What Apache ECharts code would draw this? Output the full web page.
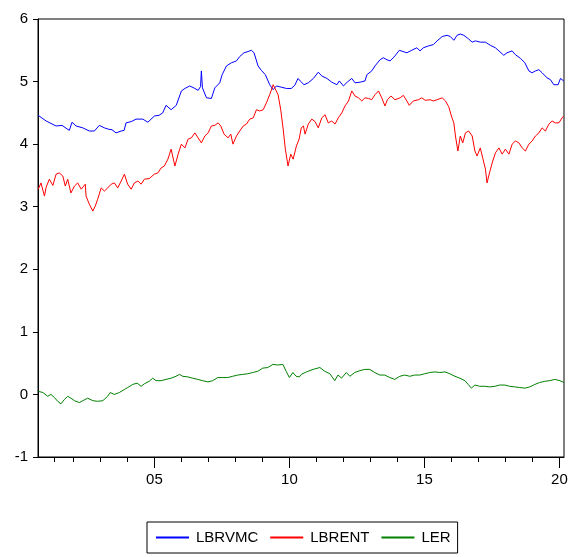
<!DOCTYPE html>
<html>
<head>
<meta charset="utf-8">
<script src="https://cdn.jsdelivr.net/npm/echarts@6/dist/echarts.min.js"></script>
<style>
  html, body { margin: 0; padding: 0; background: #fff; }
  #chart { width: 576px; height: 557px; }
</style>
</head>
<body>
<div id="chart"></div>
<script>
// LBRVMC (decimal year, log level)
const lbrvmcYears = [2000.70,2000.99,2001.36,2001.58,2001.85,2001.95,2002.10,2002.35,2002.59,2002.78,2002.96,2003.15,2003.29,2003.43,2003.58,2003.77,2003.88,2003.95,2004.14,2004.32,2004.57,2004.76,2005.00,2005.17,2005.31,2005.43,2005.62,2005.69,2005.81,2006.00,2006.13,2006.31,2006.50,2006.62,2006.71,2006.74,2006.78,2006.93,2007.11,2007.24,2007.42,2007.51,2007.67,2007.85,2008.04,2008.16,2008.32,2008.47,2008.59,2008.69,2008.84,2008.96,2009.11,2009.27,2009.40,2009.52,2009.70,2009.89,2010.07,2010.20,2010.32,2010.40,2010.54,2010.70,2010.89,2011.07,2011.20,2011.39,2011.57,2011.76,2011.85,2012.00,2012.14,2012.31,2012.43,2012.62,2012.80,2012.87,2013.05,2013.17,2013.36,2013.48,2013.61,2013.73,2013.91,2014.07,2014.21,2014.35,2014.53,2014.72,2014.84,2014.96,2015.15,2015.33,2015.47,2015.66,2015.84,2015.96,2016.09,2016.21,2016.33,2016.46,2016.64,2016.77,2016.89,2017.07,2017.26,2017.44,2017.63,2017.76,2017.94,2018.06,2018.25,2018.37,2018.56,2018.72,2018.87,2018.99,2019.11,2019.24,2019.36,2019.54,2019.67,2019.79,2019.95,2020.04,2020.16];
const lbrvmc = [4.46,4.37,4.29,4.30,4.22,4.35,4.29,4.26,4.21,4.21,4.30,4.26,4.24,4.23,4.18,4.21,4.22,4.34,4.36,4.40,4.40,4.35,4.45,4.46,4.50,4.62,4.55,4.54,4.62,4.85,4.89,4.93,4.89,4.86,4.92,5.17,4.90,4.74,4.73,4.90,4.98,5.11,5.25,5.30,5.33,5.40,5.46,5.48,5.50,5.46,5.25,5.18,5.11,4.95,4.87,4.93,4.91,4.89,4.89,4.94,5.05,5.01,4.95,4.98,5.05,5.15,5.09,5.05,4.99,4.95,5.01,4.93,4.99,5.05,4.98,4.99,5.01,5.11,5.17,5.25,5.35,5.38,5.35,5.33,5.41,5.50,5.48,5.46,5.50,5.54,5.49,5.54,5.57,5.59,5.65,5.72,5.74,5.72,5.66,5.74,5.76,5.74,5.68,5.63,5.65,5.63,5.63,5.58,5.54,5.49,5.42,5.46,5.49,5.43,5.37,5.30,5.17,5.14,5.17,5.19,5.14,5.06,5.03,4.95,4.95,5.05,5.01];

// LBRENT
const lbrentYears = [2000.70,2000.80,2000.93,2000.99,2001.11,2001.24,2001.36,2001.48,2001.61,2001.70,2001.79,2001.91,2002.04,2002.16,2002.29,2002.44,2002.47,2002.59,2002.72,2002.81,2002.90,2003.03,2003.15,2003.27,2003.40,2003.52,2003.64,2003.77,2003.89,2004.01,2004.14,2004.26,2004.39,2004.51,2004.63,2004.81,2005.00,2005.13,2005.25,2005.37,2005.50,2005.62,2005.76,2005.88,2006.00,2006.13,2006.25,2006.37,2006.50,2006.62,2006.74,2006.87,2006.99,2007.11,2007.24,2007.36,2007.46,2007.58,2007.73,2007.83,2007.91,2008.04,2008.16,2008.29,2008.41,2008.53,2008.66,2008.78,2008.90,2009.03,2009.15,2009.27,2009.40,2009.46,2009.58,2009.68,2009.77,2009.85,2009.95,2010.05,2010.14,2010.26,2010.36,2010.44,2010.52,2010.58,2010.70,2010.83,2010.95,2011.07,2011.20,2011.32,2011.44,2011.57,2011.69,2011.81,2011.94,2012.06,2012.19,2012.31,2012.43,2012.56,2012.68,2012.80,2012.93,2013.05,2013.17,2013.30,2013.42,2013.54,2013.63,2013.76,2013.91,2014.10,2014.22,2014.35,2014.44,2014.59,2014.78,2014.90,2015.03,2015.21,2015.33,2015.47,2015.66,2015.78,2015.90,2016.00,2016.09,2016.15,2016.24,2016.33,2016.42,2016.52,2016.64,2016.77,2016.87,2016.95,2017.07,2017.16,2017.26,2017.32,2017.41,2017.51,2017.63,2017.76,2017.88,2018.00,2018.13,2018.25,2018.37,2018.50,2018.62,2018.74,2018.87,2018.99,2019.11,2019.24,2019.36,2019.48,2019.61,2019.73,2019.85,2019.98,2020.10,2020.16];
const lbrent = [3.28,3.38,3.17,3.31,3.44,3.34,3.52,3.54,3.49,3.33,3.44,3.22,3.33,3.38,3.28,3.36,3.17,3.04,2.93,3.01,3.12,3.30,3.25,3.30,3.36,3.38,3.30,3.41,3.52,3.36,3.28,3.38,3.41,3.36,3.44,3.45,3.52,3.54,3.62,3.65,3.76,3.92,3.65,3.84,4.00,3.94,4.08,4.10,4.18,4.10,4.02,4.13,4.18,4.29,4.30,4.34,4.29,4.16,4.10,4.16,4.00,4.13,4.21,4.29,4.32,4.40,4.42,4.55,4.53,4.55,4.66,4.79,4.95,4.98,4.79,4.55,4.24,3.92,3.65,3.84,3.76,3.97,4.08,4.26,4.29,4.16,4.32,4.40,4.36,4.26,4.42,4.47,4.34,4.37,4.32,4.42,4.50,4.61,4.69,4.85,4.77,4.74,4.69,4.74,4.73,4.71,4.79,4.85,4.74,4.61,4.71,4.77,4.71,4.74,4.78,4.69,4.62,4.69,4.71,4.74,4.70,4.71,4.69,4.71,4.74,4.69,4.60,4.45,4.34,4.13,3.89,4.13,4.02,4.18,4.21,4.13,3.89,3.81,3.94,3.78,3.60,3.38,3.54,3.70,3.86,3.94,3.84,3.92,3.84,4.00,4.05,4.02,3.94,3.89,4.00,4.05,4.13,4.18,4.26,4.21,4.32,4.37,4.34,4.34,4.42,4.45];

// LER
const lerYears = [2000.70,2000.87,2001.05,2001.17,2001.30,2001.42,2001.54,2001.67,2001.79,2001.91,2002.04,2002.22,2002.35,2002.53,2002.72,2002.90,2003.09,2003.27,2003.36,2003.52,2003.70,2003.89,2004.01,2004.20,2004.36,2004.51,2004.63,2004.81,2004.94,2005.06,2005.25,2005.43,2005.62,2005.80,2005.93,2006.05,2006.24,2006.42,2006.61,2006.79,2006.98,2007.16,2007.35,2007.53,2007.72,2007.90,2008.09,2008.27,2008.46,2008.64,2008.83,2009.01,2009.20,2009.39,2009.57,2009.76,2009.88,2010.00,2010.13,2010.25,2010.37,2010.44,2010.63,2010.88,2011.13,2011.31,2011.50,2011.68,2011.80,2011.93,2012.11,2012.24,2012.42,2012.61,2012.79,2012.98,2013.16,2013.35,2013.53,2013.72,2013.90,2014.09,2014.27,2014.46,2014.64,2014.83,2015.01,2015.20,2015.39,2015.57,2015.76,2015.94,2016.13,2016.31,2016.50,2016.62,2016.74,2016.87,2017.05,2017.24,2017.42,2017.61,2017.79,2017.98,2018.16,2018.35,2018.53,2018.72,2018.90,2019.09,2019.27,2019.46,2019.64,2019.83,2020.02,2020.16];
const ler = [0.05,0.03,-0.03,0.00,-0.05,-0.11,-0.15,-0.08,-0.03,-0.06,-0.10,-0.13,-0.10,-0.06,-0.10,-0.11,-0.10,-0.03,0.03,0.00,0.03,0.08,0.11,0.16,0.18,0.13,0.17,0.21,0.26,0.22,0.22,0.24,0.26,0.29,0.32,0.29,0.28,0.26,0.24,0.22,0.20,0.22,0.27,0.27,0.27,0.29,0.31,0.32,0.33,0.35,0.37,0.42,0.43,0.48,0.47,0.48,0.37,0.27,0.35,0.29,0.28,0.32,0.36,0.40,0.43,0.37,0.33,0.22,0.31,0.26,0.35,0.29,0.35,0.38,0.40,0.40,0.35,0.31,0.31,0.27,0.24,0.29,0.31,0.29,0.31,0.31,0.33,0.35,0.36,0.35,0.36,0.33,0.29,0.26,0.22,0.16,0.10,0.15,0.13,0.13,0.12,0.13,0.15,0.15,0.13,0.12,0.11,0.10,0.12,0.16,0.19,0.21,0.22,0.24,0.22,0.19];

// Axis ticks
const majorTickYears = [2005, 2010, 2015, 2020];
const majorTickLabels = ['05', '10', '15', '20'];
const minorTickYears = [2001.3, 2002, 2003, 2004, 2006, 2007, 2008, 2009, 2011, 2012, 2013, 2014, 2016, 2017, 2018, 2019];
const seriesNames = ['LBRVMC', 'LBRENT', 'LER'];
const seriesColors = ['#0000ff', '#ff0000', '#008000'];

const xMin = 2000.69, xMax = 2020.17;
const font = '"Liberation Sans", Arial, sans-serif';

function pairs(xs, ys) { return xs.map((x, i) => [x, ys[i]]); }

const chart = echarts.init(document.getElementById('chart'), null, { renderer: 'canvas' });

const makeSeries = (name, xs, ys, color) => ({
  name, type: 'line', xAxisIndex: 0, yAxisIndex: 0,
  data: pairs(xs, ys), showSymbol: false, symbol: 'none',
  lineStyle: { color, width: 1 }, itemStyle: { color },
  emphasis: { disabled: true }
});

chart.setOption({
  animation: false,
  backgroundColor: '#fff',
  grid: { left: 38, top: 19, width: 526, height: 438, show: true, borderColor: '#000', borderWidth: 1, backgroundColor: 'transparent' },
  legend: {
    data: seriesNames,
    left: 147, top: 522,
    orient: 'horizontal',
    icon: 'rect', itemWidth: 33, itemHeight: 2, itemGap: 12,
    padding: [8, 7, 8, 9],
    borderColor: '#000', borderWidth: 1,
    textStyle: { fontFamily: font, fontSize: 15, color: '#000', padding: [0, 0, 0, 2] }
  },
  xAxis: [
    {
      type: 'value', min: xMin, max: xMax, position: 'bottom',
      axisLine: { show: true, onZero: false, lineStyle: { color: '#000', width: 1 } },
      axisTick: { show: true, inside: false, length: 11, customValues: majorTickYears, lineStyle: { color: '#000' } },
      axisLabel: {
        show: true, customValues: majorTickYears, margin: 15,
        fontFamily: font, fontSize: 15, color: '#000',
        formatter: v => { const i = majorTickYears.findIndex(t => Math.abs(t - v) < 1e-6); return i >= 0 ? majorTickLabels[i] : ''; }
      },
      splitLine: { show: false }
    },
    {
      type: 'value', min: xMin, max: xMax, position: 'bottom',
      axisLine: { show: false, onZero: false },
      axisTick: { show: true, inside: false, length: 5, customValues: minorTickYears, lineStyle: { color: '#000' } },
      axisLabel: { show: false },
      splitLine: { show: false }
    }
  ],
  yAxis: {
    type: 'value', min: -1, max: 6, interval: 1,
    axisLine: { show: true, onZero: false, lineStyle: { color: '#000', width: 1 } },
    axisTick: { show: true, inside: false, length: 5, lineStyle: { color: '#000' } },
    axisLabel: { fontFamily: font, fontSize: 15, color: '#000', margin: 10 },
    splitLine: { show: false }
  },
  series: [
    makeSeries(seriesNames[0], lbrvmcYears, lbrvmc, seriesColors[0]),
    makeSeries(seriesNames[1], lbrentYears, lbrent, seriesColors[1]),
    makeSeries(seriesNames[2], lerYears, ler, seriesColors[2])
  ]
});
</script>
</body>
</html>
